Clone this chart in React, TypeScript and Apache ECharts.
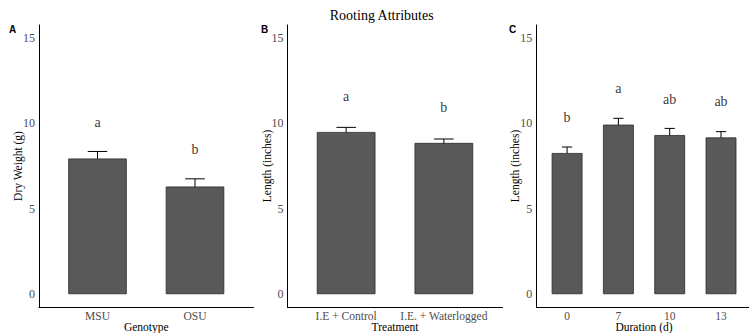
import React, { useEffect, useRef } from "react";
import * as echarts from "echarts";

// Panel A
const catsA = ["MSU", "OSU"];
const meanA = [7.94, 6.3];
const lowA = [7.53, 5.92];
const highA = [8.35, 6.75];
const letA = ["a", "b"];
const letYA = [10.05, 8.45];

// Panel B
const catsB = ["I.E + Control", "I.E. + Waterlogged"];
const meanB = [9.49, 8.85];
const lowB = [9.26, 8.59];
const highB = [9.76, 9.08];
const letB = ["a", "b"];
const letYB = [11.57, 10.95];

// Panel C
const catsC = ["0", "7", "10", "13"];
const meanC = [8.26, 9.92, 9.31, 9.17];
const lowC = [7.91, 9.58, 8.96, 8.8];
const highC = [8.61, 10.29, 9.7, 9.51];
const letC = ["b", "a", "ab", "ab"];
const letYC = [10.35, 12.03, 11.42, 11.28];

const yTicks = [0, 5, 10, 15];

const SERIF = "'Liberation Serif', 'Times New Roman', serif";

const panels = [
  { cats: catsA, mean: meanA, low: lowA, high: highA, lets: letA, letY: letYA, xName: "Genotype", yName: "Dry Weight (g)", left: 39, width: 214.5 },
  { cats: catsB, mean: meanB, low: lowB, high: highB, lets: letB, letY: letYB, xName: "Treatment", yName: "Length (inches)", left: 287.5, width: 215 },
  { cats: catsC, mean: meanC, low: lowC, high: highC, lets: letC, letY: letYC, xName: "Duration (d)", yName: "Length (inches)", left: 536.3, width: 215.5 },
];

export default function App() {
  const ref = useRef<HTMLDivElement>(null);
  useEffect(() => {
    if (!ref.current) return;
    const chart = echarts.init(ref.current, undefined, { renderer: "svg" });
    const grid: any[] = [];
    const xAxis: any[] = [];
    const yAxis: any[] = [];
    const series: any[] = [];
    panels.forEach((p, i) => {
      const n = p.cats.length;
      grid.push({ left: p.left, top: 25, width: p.width, height: 282, outerBoundsMode: "none", containLabel: false });
      const xs = p.cats.map((_, k) => k + 1);
      xAxis.push({
        type: "value",
        gridIndex: i,
        min: 0.4,
        max: n + 0.6,
        splitLine: { show: false },
        axisTick: { show: false },
        axisLine: { show: true, onZero: false, lineStyle: { color: "#000", width: 1 } },
        axisLabel: {
          customValues: xs,
          formatter: (v: number) => p.cats[Math.round(v) - 1] ?? "",
          color: "#4d4d4d",
          fontFamily: SERIF,
          fontSize: 11.5,
          margin: 3,
        },
        name: p.xName,
        nameLocation: "middle",
        nameGap: 14,
        nameMoveOverlap: false,
        nameTextStyle: { color: "#000", fontFamily: SERIF, fontSize: 11.5 },
      });
      yAxis.push({
        type: "value",
        gridIndex: i,
        min: -0.75,
        max: 15.75,
        splitLine: { show: false },
        axisTick: { show: false },
        axisLine: { show: true, onZero: false, lineStyle: { color: "#000", width: 1 } },
        axisLabel: {
          customValues: yTicks,
          color: "#4d4d4d",
          fontFamily: SERIF,
          fontSize: 12,
          margin: 4,
        },
        name: p.yName,
        nameLocation: "middle",
        nameGap: 15,
        nameMoveOverlap: false,
        nameTextStyle: { color: "#000", fontFamily: SERIF, fontSize: 11.5 },
      });
      series.push({
        type: "bar",
        xAxisIndex: i,
        yAxisIndex: i,
        barWidth: "60%",
        itemStyle: { color: "#595959", borderColor: "#2a2a2a", borderWidth: 0.8 },
        data: p.mean.map((m, k) => [xs[k], m]),
      });
      series.push({
        type: "custom",
        xAxisIndex: i,
        yAxisIndex: i,
        data: p.low.map((l, k) => [xs[k], l, p.high[k]]),
        renderItem: (params: any, api: any) => {
          const x = api.value(0);
          const lo = api.coord([x, api.value(1)]);
          const hi = api.coord([x, api.value(2)]);
          const a = api.coord([x - 0.1, api.value(1)]);
          const b = api.coord([x + 0.1, api.value(1)]);
          const st = { stroke: "#000", lineWidth: 1 };
          return {
            type: "group",
            children: [
              { type: "line", shape: { x1: lo[0], y1: lo[1], x2: hi[0], y2: hi[1] }, style: st },
              { type: "line", shape: { x1: a[0], y1: lo[1], x2: b[0], y2: lo[1] }, style: st },
              { type: "line", shape: { x1: a[0], y1: hi[1], x2: b[0], y2: hi[1] }, style: st },
            ],
          };
        },
      });
      series.push({
        type: "scatter",
        xAxisIndex: i,
        yAxisIndex: i,
        symbolSize: 0,
        itemStyle: { color: "#000" },
        emphasis: { disabled: true },
        data: p.letY.map((y, k) => ({ value: [xs[k], y], name: p.lets[k] })),
        label: {
          show: true,
          position: "inside",
          formatter: (d: any) => d.name,
          color: "#000",
          fontFamily: SERIF,
          fontSize: 14,
        },
      });
    });
    chart.setOption({
      animation: false,
      backgroundColor: "#fff",
      title: {
        text: "Rooting Attributes",
        left: 376.7,
        top: 3,
        textAlign: "center",
        textStyle: { fontFamily: SERIF, fontSize: 14, fontWeight: "normal", color: "#000" },
      },
      graphic: [
        { type: "text", left: 9, top: 24, style: { text: "A", font: "bold 10px 'Liberation Sans', Arial, sans-serif", fill: "#000" } },
        { type: "text", left: 261, top: 24, style: { text: "B", font: "bold 10px 'Liberation Sans', Arial, sans-serif", fill: "#000" } },
        { type: "text", left: 509, top: 24, style: { text: "C", font: "bold 10px 'Liberation Sans', Arial, sans-serif", fill: "#000" } },
      ],
      grid,
      xAxis,
      yAxis,
      series,
    });
    return () => chart.dispose();
  }, []);
  return <div ref={ref} style={{ position: "fixed", left: 0, top: 0, width: 749, height: 333 }} />;
}
